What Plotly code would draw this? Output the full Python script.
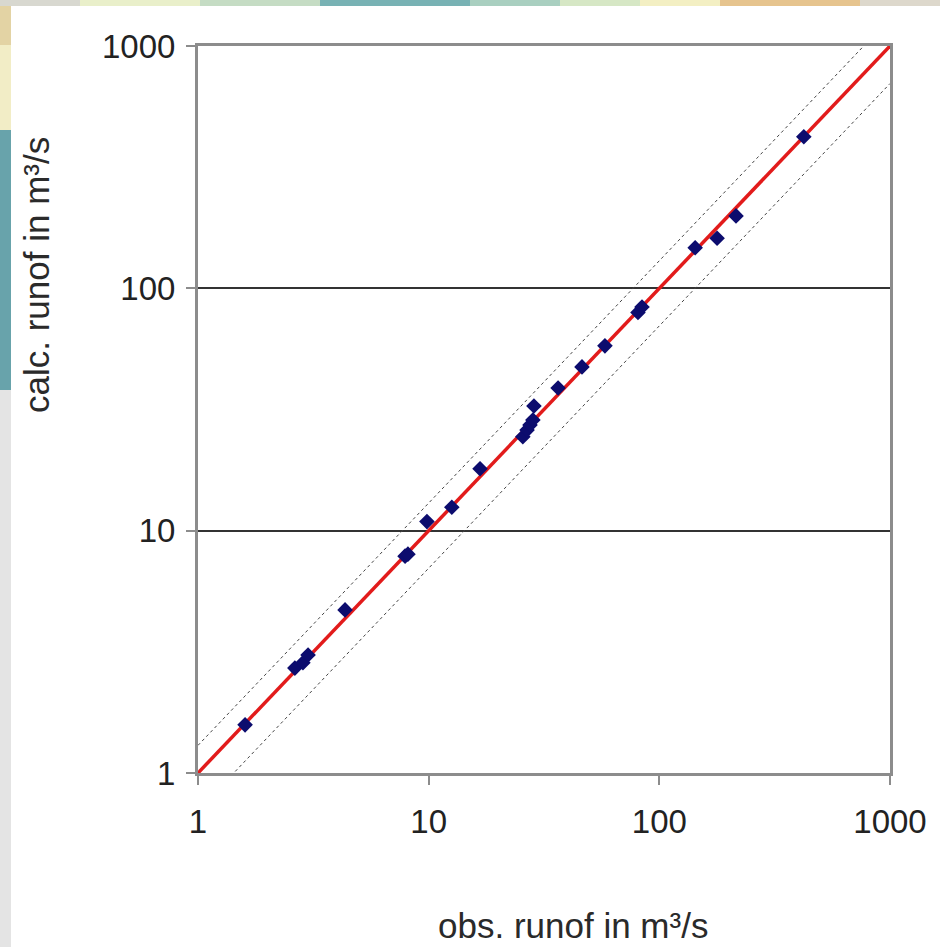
import plotly.graph_objects as go

# ---- data ----
obs_runoff = [1.6, 2.63, 2.85, 3.0, 4.34, 7.9, 8.13, 9.83, 12.6, 16.7,
              25.6, 26.7, 27.5, 28.3, 28.6, 36.4, 46.2, 58.1, 80.8, 84.1,
              143, 178, 215, 423]
calc_runoff = [1.58, 2.71, 2.85, 3.07, 4.71, 7.85, 8.0, 10.9, 12.5, 18.0,
               24.4, 26.0, 27.3, 28.6, 32.7, 38.8, 47.4, 57.9, 79.5, 83.8,
               147, 161, 199, 422]
line_x = [1, 1000]
upper_factor = 1.3
lower_factor = 0.7
tick_vals = [1, 10, 100, 1000]
tick_text = ["1", "10", "100", "1000"]
x_title = "obs. runof in m³/s"
y_title = "calc. runof in m³/s"

W, H = 940, 947
L, R, T, B = 198, 50, 46, 174
pw, ph = W - L - R, H - T - B

def px(x):
    return (x - L) / pw

def py(y):
    return (H - B - y) / ph

FONT = "Liberation Sans Narrow, Arial Narrow, Liberation Sans, Arial, sans-serif"

fig = go.Figure()

fig.add_trace(go.Scatter(x=line_x, y=[v * upper_factor for v in line_x], mode="lines",
                         line=dict(color="#444444", width=1, dash="dot"), hoverinfo="skip"))
fig.add_trace(go.Scatter(x=line_x, y=[v * lower_factor for v in line_x], mode="lines",
                         line=dict(color="#444444", width=1, dash="dot"), hoverinfo="skip"))
fig.add_trace(go.Scatter(x=line_x, y=line_x, mode="lines",
                         line=dict(color="#e21b1b", width=3.5), hoverinfo="skip"))
fig.add_trace(go.Scatter(x=obs_runoff, y=calc_runoff, mode="markers",
                         marker=dict(symbol="diamond", size=12, color="#0c0c6e",
                                     line=dict(width=0))))

# decorative frame (left and top strips)
shapes = []
left_strip = [(0, 45, "#e3d3a4"), (45, 130, "#f2edc6"), (130, 390, "#68a3ab"), (390, 947, "#e4e4e4")]
for y0, y1, c in left_strip:
    shapes.append(dict(type="rect", xref="paper", yref="paper", x0=px(0), x1=px(11),
                       y0=py(y1), y1=py(y0), fillcolor=c, line=dict(width=0), layer="below"))
top_strip = [(0, 80, "#d8d8d0"), (80, 200, "#e9efca"), (200, 320, "#c5dcc4"), (320, 470, "#78b2b4"),
             (470, 560, "#a9cfc0"), (560, 640, "#d6e7c5"), (640, 720, "#f3efc3"), (720, 860, "#e6c48e"),
             (860, 940, "#ddd8cc")]
for x0, x1, c in top_strip:
    shapes.append(dict(type="rect", xref="paper", yref="paper", x0=px(x0), x1=px(x1),
                       y0=py(6), y1=py(0), fillcolor=c, line=dict(width=0), layer="below"))
fig.update_layout(shapes=shapes)

fig.add_annotation(text=x_title, xref="paper", yref="paper", x=px(573), y=py(925),
                   showarrow=False, font=dict(size=35, color="#2a2a2a"),
                   xanchor="center", yanchor="middle")
fig.add_annotation(text=y_title, xref="paper", yref="paper", x=px(36), y=py(275),
                   showarrow=False, textangle=-90, font=dict(size=35, color="#2a2a2a"),
                   xanchor="center", yanchor="middle")

fig.update_layout(
    width=W, height=H,
    margin=dict(l=L, r=R, t=T, b=B),
    paper_bgcolor="white", plot_bgcolor="white",
    showlegend=False,
    font=dict(family=FONT, color="#222222", size=33),
    xaxis=dict(type="log", range=[0, 3], tickvals=tick_vals, ticktext=tick_text,
               showgrid=False, zeroline=False,
               showline=True, mirror=True, linecolor="#8c8c8c", linewidth=3,
               ticks="outside", ticklen=9, tickwidth=1.5, tickcolor="#8c8c8c",
               tickfont=dict(size=33), ticklabelstandoff=8),
    yaxis=dict(type="log", range=[0, 3], tickvals=tick_vals, ticktext=tick_text,
               showgrid=True, gridcolor="#333333", gridwidth=1.5, zeroline=False,
               showline=True, mirror=True, linecolor="#8c8c8c", linewidth=3,
               ticks="outside", ticklen=9, tickwidth=1.5, tickcolor="#8c8c8c",
               tickfont=dict(size=33), ticklabelstandoff=4),
)

fig.write_html("out.html")
